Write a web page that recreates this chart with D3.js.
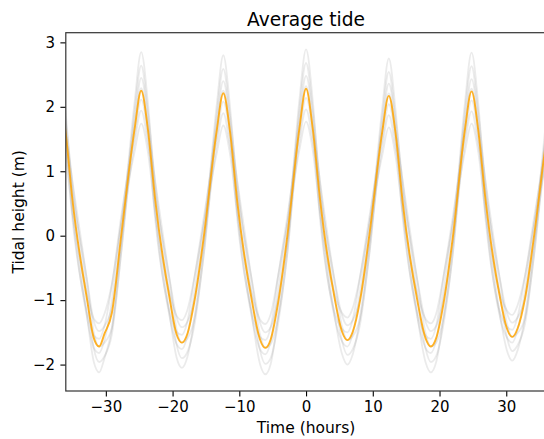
<!DOCTYPE html>
<html>
<head>
<meta charset="utf-8">
<script src="https://cdn.jsdelivr.net/npm/d3@7"></script>
<style>
  body { margin: 0; background: #fff; }
  text { font-family: "DejaVu Sans", sans-serif; fill: #000; }
</style>
</head>
<body>
<div id="chart"></div>
<script>
// knot times (hours): peaks, troughs and a few points on each flank
var hours = [
  -37.1, -36.1, -35.0, -32.8, -31.8, -31.0, -30.2, -29.1, -27.7, -25.7,
  -24.7, -23.7, -22.6, -20.4, -19.4, -18.6, -17.8, -16.7, -15.3, -13.4,
  -12.4, -11.4, -10.3, -8.1, -6.9, -6.1, -5.3, -4.2, -2.8, -1.0,
  0, 1.0, 2.1, 4.3, 5.4, 6.2, 7.0, 8.1, 9.5, 11.4,
  12.4, 13.4, 14.5, 16.7, 17.9, 18.7, 19.5, 20.6, 22.0, 23.8,
  24.8, 25.8, 26.9, 29.1, 30.1, 30.9, 31.7, 32.8, 34.2, 36.2,
  37.2
];

// average tide (orange)
var meanTide = [
  2.20, 1.66, 0.55, -1.00, -1.59, -1.72, -1.52, -1.20, 0.00, 1.65,
  2.25, 1.65, 0.55, -1.00, -1.53, -1.66, -1.53, -1.00, 0.00, 1.62,
  2.21, 1.62, 0.52, -1.02, -1.61, -1.74, -1.61, -1.05, 0.00, 1.66,
  2.28, 1.66, 0.56, -0.98, -1.49, -1.62, -1.49, -1.00, 0.02, 1.60,
  2.17, 1.60, 0.50, -1.02, -1.59, -1.72, -1.59, -1.05, -0.02, 1.64,
  2.24, 1.64, 0.55, -0.98, -1.44, -1.57, -1.44, -0.98, 0.02, 1.62,
  2.20
];

// individual tides (faint grey)
var dayTides = [
  [2.79, 2.00, 0.63, -1.26, -1.96, -2.12, -1.90, -1.44, -0.06, 2.06,
   2.85, 2.06, 0.63, -1.26, -1.89, -2.05, -1.89, -1.26, -0.06, 2.01,
   2.80, 2.01, 0.63, -1.26, -1.99, -2.15, -1.99, -1.26, -0.06, 2.10,
   2.89, 2.10, 0.63, -1.26, -1.84, -2.00, -1.84, -1.26, -0.06, 1.96,
   2.75, 1.96, 0.63, -1.26, -1.96, -2.12, -1.96, -1.26, -0.06, 2.05,
   2.84, 2.05, 0.63, -1.26, -1.78, -1.94, -1.78, -1.26, -0.06, 2.00,
   2.79],
  [2.58, 1.86, 0.81, -0.95, -1.75, -1.96, -1.87, -1.53, -0.25, 1.92,
   2.64, 1.92, 0.81, -0.95, -1.69, -1.90, -1.81, -1.37, -0.25, 1.87,
   2.59, 1.87, 0.81, -0.95, -1.78, -1.99, -1.90, -1.37, -0.25, 1.96,
   2.68, 1.96, 0.81, -0.95, -1.64, -1.85, -1.76, -1.37, -0.25, 1.82,
   2.54, 1.82, 0.81, -0.95, -1.75, -1.96, -1.87, -1.37, -0.25, 1.91,
   2.63, 1.91, 0.81, -0.95, -1.58, -1.79, -1.70, -1.37, -0.25, 1.86,
   2.58],
  [2.39, 1.73, 0.37, -1.28, -1.74, -1.82, -1.62, -1.01, 0.19, 1.79,
   2.45, 1.79, 0.37, -1.28, -1.68, -1.76, -1.56, -0.86, 0.19, 1.74,
   2.40, 1.74, 0.37, -1.28, -1.76, -1.84, -1.64, -0.86, 0.19, 1.82,
   2.48, 1.82, 0.37, -1.28, -1.64, -1.72, -1.52, -0.86, 0.19, 1.70,
   2.36, 1.70, 0.37, -1.28, -1.74, -1.82, -1.62, -0.86, 0.19, 1.77,
   2.43, 1.77, 0.37, -1.28, -1.58, -1.66, -1.46, -0.86, 0.19, 1.73,
   2.39],
  [2.24, 1.63, 0.84, -0.72, -1.51, -1.72, -1.66, -1.43, -0.28, 1.68,
   2.29, 1.68, 0.84, -0.72, -1.45, -1.66, -1.60, -1.28, -0.28, 1.64,
   2.25, 1.64, 0.84, -0.72, -1.53, -1.74, -1.68, -1.28, -0.28, 1.71,
   2.32, 1.71, 0.84, -0.72, -1.41, -1.62, -1.56, -1.28, -0.28, 1.60,
   2.21, 1.60, 0.84, -0.72, -1.51, -1.72, -1.66, -1.28, -0.28, 1.67,
   2.28, 1.67, 0.84, -0.72, -1.36, -1.57, -1.51, -1.28, -0.28, 1.63,
   2.24],
  [2.07, 1.51, 0.25, -1.20, -1.55, -1.60, -1.40, -0.78, 0.30, 1.55,
   2.11, 1.55, 0.25, -1.20, -1.49, -1.54, -1.34, -0.64, 0.30, 1.52,
   2.08, 1.52, 0.25, -1.20, -1.57, -1.62, -1.42, -0.64, 0.30, 1.58,
   2.14, 1.58, 0.25, -1.20, -1.45, -1.50, -1.30, -0.64, 0.30, 1.48,
   2.04, 1.48, 0.25, -1.20, -1.55, -1.60, -1.40, -0.64, 0.30, 1.54,
   2.10, 1.54, 0.25, -1.20, -1.41, -1.46, -1.26, -0.64, 0.30, 1.51,
   2.07],
  [1.90, 1.40, 0.65, -0.70, -1.33, -1.48, -1.40, -1.12, -0.10, 1.44,
   1.94, 1.44, 0.65, -0.70, -1.27, -1.42, -1.34, -0.98, -0.10, 1.40,
   1.90, 1.40, 0.65, -0.70, -1.35, -1.50, -1.42, -0.98, -0.10, 1.46,
   1.96, 1.46, 0.65, -0.70, -1.24, -1.39, -1.31, -0.98, -0.10, 1.37,
   1.87, 1.37, 0.65, -0.70, -1.33, -1.48, -1.40, -0.98, -0.10, 1.43,
   1.93, 1.43, 0.65, -0.70, -1.20, -1.35, -1.27, -0.98, -0.10, 1.40,
   1.90],
  [1.71, 1.27, 0.35, -0.91, -1.29, -1.36, -1.21, -0.75, 0.19, 1.30,
   1.74, 1.30, 0.35, -0.91, -1.24, -1.31, -1.16, -0.63, 0.19, 1.27,
   1.71, 1.27, 0.35, -0.91, -1.30, -1.37, -1.22, -0.63, 0.19, 1.33,
   1.77, 1.33, 0.35, -0.91, -1.20, -1.27, -1.12, -0.63, 0.19, 1.24,
   1.68, 1.24, 0.35, -0.91, -1.29, -1.36, -1.21, -0.63, 0.19, 1.30,
   1.74, 1.30, 0.35, -0.91, -1.16, -1.23, -1.08, -0.63, 0.19, 1.27,
   1.71]
];

var xTicks = [-30, -20, -10, 0, 10, 20, 30];
var yTicks = [-2, -1, 0, 1, 2, 3];

var margin = {top: 32.7, right: 0, bottom: 48, left: 65.8},
    width = 480.5,
    height = 358.3;

var svg = d3.select("#chart")
    .append("svg")
    .attr("width", 544)
    .attr("height", 439);

var g = svg.append("g")
    .attr("transform", "translate(" + margin.left + "," + margin.top + ")");

var x = d3.scaleLinear().domain([-36, 36]).range([0, width]);
var y = d3.scaleLinear().domain([-2.41, 3.15]).range([height, 0]);

g.append("clipPath").attr("id", "clip")
    .append("rect").attr("width", width).attr("height", height);

var line = d3.line()
    .x(function(d, i) { return x(hours[i]); })
    .y(function(d) { return y(d); })
    .curve(d3.curveMonotoneX);

var plot = g.append("g").attr("clip-path", "url(#clip)");

plot.selectAll(".day")
    .data(dayTides)
    .enter()
    .append("path")
    .attr("class", "day")
    .attr("d", line)
    .attr("fill", "none")
    .attr("stroke", "#808080")
    .attr("stroke-opacity", 0.16)
    .attr("stroke-width", 1.8);

plot.append("path")
    .datum(meanTide)
    .attr("d", line)
    .attr("fill", "none")
    .attr("stroke", "orange")
    .attr("stroke-opacity", 0.85)
    .attr("stroke-width", 1.9);

// axes
var xAxis = g.append("g")
    .attr("transform", "translate(0," + height + ")")
    .call(d3.axisBottom(x).tickValues(xTicks).tickFormat(d3.format("d"))
        .tickSize(5.4).tickPadding(5.4).tickSizeOuter(0));
var yAxis = g.append("g")
    .call(d3.axisLeft(y).tickValues(yTicks).tickFormat(d3.format("d"))
        .tickSize(5.4).tickPadding(5.4).tickSizeOuter(0));

[xAxis, yAxis].forEach(function(a) {
    a.select(".domain").remove();
    a.selectAll("line").attr("stroke", "#000").attr("stroke-width", 1.1);
    a.selectAll("text").style("font-size", "15px").attr("fill", "#000")
        .style("font-family", "'DejaVu Sans', sans-serif");
});

// spines
g.append("rect")
    .attr("width", width)
    .attr("height", height)
    .attr("fill", "none")
    .attr("stroke", "#333")
    .attr("stroke-width", 1.2);

svg.append("text")
    .attr("x", margin.left + width / 2)
    .attr("y", 26)
    .attr("text-anchor", "middle")
    .style("font-size", "18.6px")
    .text("Average tide");

svg.append("text")
    .attr("x", margin.left + width / 2)
    .attr("y", 433.4)
    .attr("text-anchor", "middle")
    .style("font-size", "15.5px")
    .text("Time (hours)");

svg.append("text")
    .attr("transform", "translate(24," + (margin.top + height / 2) + ") rotate(-90)")
    .attr("text-anchor", "middle")
    .style("font-size", "15.5px")
    .text("Tidal height (m)");
</script>
</body>
</html>
